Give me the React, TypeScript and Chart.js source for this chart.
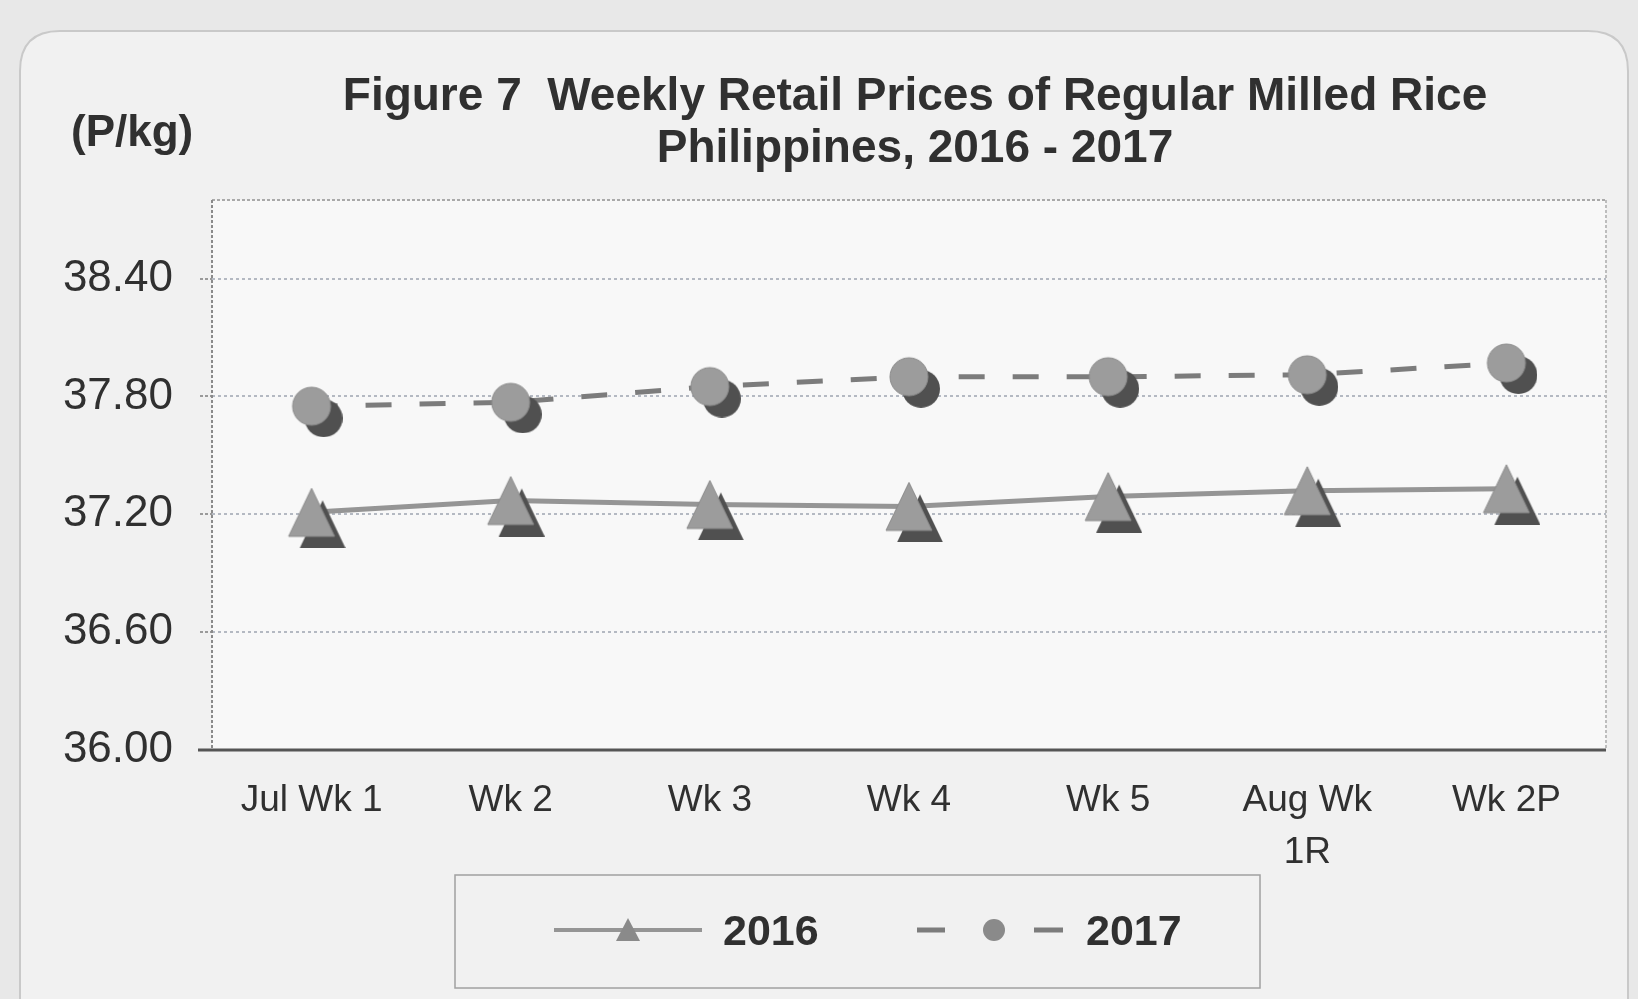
import React, { useEffect, useRef } from 'react';
import { Chart, registerables } from 'chart.js';

Chart.register(...registerables);

// ---------- data ----------
const CATEGORIES: (string | string[])[] = ['Jul Wk 1', 'Wk 2', 'Wk 3', 'Wk 4', 'Wk 5', ['Aug Wk', '1R'], 'Wk 2P'];
const SERIES_2016 = [37.21, 37.27, 37.25, 37.24, 37.29, 37.32, 37.33];
const SERIES_2017 = [37.75, 37.77, 37.85, 37.9, 37.9, 37.91, 37.97];
const SERIES_NAMES = ['2016', '2017'];
const Y_TICKS = [36.0, 36.6, 37.2, 37.8, 38.4];
const Y_MIN = 36.0;
const Y_MAX = 38.8;
const TITLE_LINES = ['Figure 7  Weekly Retail Prices of Regular Milled Rice', 'Philippines, 2016 - 2017'];
const UNIT_LABEL = '(P/kg)';

const FONT = "'Liberation Sans', Arial, Helvetica, sans-serif";
const TEXT_COLOR = '#303030';
const MARKER_FILL = '#9c9c9c';
const MARKER_SHADOW = '#505050';
const LINE_2016 = '#959595';
const LINE_2017 = '#7c7c7c';

function makeTriangle(w: number, h: number, dx: number, dy: number): HTMLCanvasElement {
  const c = document.createElement('canvas');
  c.width = w + 2 * dx;
  c.height = h + 2 * dy;
  const ctx = c.getContext('2d')!;
  const cx = c.width / 2;
  const cy = c.height / 2;
  const tri = (ox: number, oy: number, color: string) => {
    ctx.beginPath();
    ctx.moveTo(cx + ox, cy - h / 2 + oy);
    ctx.lineTo(cx + ox + w / 2, cy + h / 2 + oy);
    ctx.lineTo(cx + ox - w / 2, cy + h / 2 + oy);
    ctx.closePath();
    ctx.fillStyle = color;
    ctx.fill();
  };
  tri(dx, dy, MARKER_SHADOW);
  tri(0, 0, MARKER_FILL);
  ctx.strokeStyle = '#8a8a8a';
  ctx.lineWidth = 1;
  ctx.stroke();
  return c;
}

function makeCircle(d: number, dx: number, dy: number): HTMLCanvasElement {
  const c = document.createElement('canvas');
  c.width = d + 2 * dx;
  c.height = d + 2 * dy;
  const ctx = c.getContext('2d')!;
  const cx = c.width / 2;
  const cy = c.height / 2;
  ctx.beginPath();
  ctx.arc(cx + dx, cy + dy, d / 2, 0, Math.PI * 2);
  ctx.fillStyle = MARKER_SHADOW;
  ctx.fill();
  ctx.beginPath();
  ctx.arc(cx, cy, d / 2, 0, Math.PI * 2);
  ctx.fillStyle = MARKER_FILL;
  ctx.fill();
  ctx.strokeStyle = '#8a8a8a';
  ctx.lineWidth = 1;
  ctx.stroke();
  return c;
}

const decorPlugin = {
  id: 'decor',
  beforeDraw(chart: any) {
    const { ctx, width, height, chartArea } = chart;
    ctx.save();
    ctx.fillStyle = '#e8e8e8';
    ctx.fillRect(0, 0, width, height);
    // rounded card
    const x0 = 20, y0 = 31, x1 = 1628, y1 = 1030, r = 40;
    ctx.beginPath();
    ctx.moveTo(x0 + r, y0);
    ctx.lineTo(x1 - r, y0);
    ctx.quadraticCurveTo(x1, y0, x1, y0 + r);
    ctx.lineTo(x1, y1);
    ctx.lineTo(x0, y1);
    ctx.lineTo(x0, y0 + r);
    ctx.quadraticCurveTo(x0, y0, x0 + r, y0);
    ctx.closePath();
    ctx.fillStyle = '#f1f1f1';
    ctx.fill();
    ctx.strokeStyle = '#c9c9c9';
    ctx.lineWidth = 2;
    ctx.stroke();
    // plot background
    ctx.fillStyle = '#f8f8f8';
    ctx.fillRect(chartArea.left, chartArea.top, chartArea.right - chartArea.left, chartArea.bottom - chartArea.top);
    ctx.restore();
  },
  beforeDatasetsDraw(chart: any) {
    const { ctx, chartArea } = chart;
    const { left, right, top, bottom } = chartArea;
    ctx.save();
    ctx.setLineDash([3, 2]);
    ctx.lineWidth = 2;
    ctx.strokeStyle = '#a9a9a9';
    ctx.beginPath();
    ctx.moveTo(left, top);
    ctx.lineTo(right, top);
    ctx.stroke();
    ctx.strokeStyle = '#bdbdbd';
    ctx.beginPath();
    ctx.moveTo(right, top);
    ctx.lineTo(right, bottom);
    ctx.stroke();
    ctx.strokeStyle = '#8a8a8a';
    ctx.beginPath();
    ctx.moveTo(left, top);
    ctx.lineTo(left, bottom);
    ctx.stroke();
    ctx.setLineDash([]);
    ctx.strokeStyle = '#555555';
    ctx.lineWidth = 3;
    ctx.beginPath();
    ctx.moveTo(left - 14, bottom);
    ctx.lineTo(right, bottom);
    ctx.stroke();
    ctx.restore();
  },
  afterDraw(chart: any) {
    const { ctx } = chart;
    ctx.save();
    ctx.fillStyle = TEXT_COLOR;
    ctx.textAlign = 'center';
    ctx.textBaseline = 'alphabetic';
    ctx.font = `bold 46px ${FONT}`;
    const cx = 915;
    ctx.fillText(TITLE_LINES[0], cx, 110);
    ctx.fillText(TITLE_LINES[1], cx, 162);
    ctx.textAlign = 'left';
    ctx.font = `bold 44px ${FONT}`;
    ctx.fillText(UNIT_LABEL, 71, 146);

    // legend
    const bx = 455, by = 875, bw = 805, bh = 113;
    ctx.strokeStyle = '#a0a0a0';
    ctx.lineWidth = 1.5;
    ctx.strokeRect(bx, by, bw, bh);
    const ly = 930;
    // 2016 sample
    ctx.strokeStyle = LINE_2016;
    ctx.lineWidth = 4;
    ctx.beginPath();
    ctx.moveTo(554, ly);
    ctx.lineTo(702, ly);
    ctx.stroke();
    ctx.beginPath();
    ctx.moveTo(628, ly - 12);
    ctx.lineTo(640, ly + 11);
    ctx.lineTo(616, ly + 11);
    ctx.closePath();
    ctx.fillStyle = '#8a8a8a';
    ctx.fill();
    // 2017 sample
    ctx.strokeStyle = LINE_2017;
    ctx.lineWidth = 5;
    ctx.beginPath();
    ctx.moveTo(917, ly);
    ctx.lineTo(945, ly);
    ctx.moveTo(1034, ly);
    ctx.lineTo(1063, ly);
    ctx.stroke();
    ctx.beginPath();
    ctx.arc(994, ly, 11, 0, Math.PI * 2);
    ctx.fillStyle = '#8a8a8a';
    ctx.fill();
    ctx.fillStyle = TEXT_COLOR;
    ctx.font = `bold 43px ${FONT}`;
    ctx.textBaseline = 'alphabetic';
    ctx.fillText(SERIES_NAMES[0], 723, 945);
    ctx.fillText(SERIES_NAMES[1], 1086, 945);
    ctx.restore();
  },
};

export default function App() {
  const canvasRef = useRef<HTMLCanvasElement | null>(null);

  useEffect(() => {
    const canvas = canvasRef.current;
    if (!canvas) return;
    const tri = makeTriangle(46, 48, 11, 12);
    const circ = makeCircle(38, 12, 12);
    const chart = new Chart(canvas, {
      type: 'line',
      data: {
        labels: CATEGORIES as any,
        datasets: [
          {
            label: SERIES_NAMES[0],
            data: SERIES_2016,
            borderColor: LINE_2016,
            borderWidth: 5,
            pointRadius: 0,
            tension: 0,
            order: 3,
          },
          {
            label: SERIES_NAMES[1],
            data: SERIES_2017,
            borderColor: LINE_2017,
            borderWidth: 5,
            borderDash: [26, 28],
            pointRadius: 0,
            tension: 0,
            order: 3,
          },
          {
            label: SERIES_NAMES[0] + ' markers',
            data: SERIES_2016,
            showLine: false,
            pointStyle: tri as any,
            pointRadius: 20,
            order: 1,
          },
          {
            label: SERIES_NAMES[1] + ' markers',
            data: SERIES_2017,
            showLine: false,
            pointStyle: circ as any,
            pointRadius: 20,
            order: 1,
          },
        ],
      },
      options: {
        animation: false,
        responsive: false,
        layout: { padding: { top: 200, right: 32, bottom: 0, left: 0 } },
        plugins: {
          legend: { display: false },
          title: { display: false },
          tooltip: { enabled: false },
        },
        scales: {
          x: {
            offset: true,
            grid: { display: false, drawTicks: false },
            border: { display: false },
            ticks: {
              color: TEXT_COLOR,
              font: { family: FONT, size: 37, lineHeight: 1.4 },
              padding: 25,
              maxRotation: 0,
              autoSkip: false,
            },
            afterFit(scale: any) {
              scale.height = 249;
            },
          },
          y: {
            min: Y_MIN,
            max: Y_MAX,
            afterBuildTicks(scale: any) {
              scale.ticks = Y_TICKS.map((v) => ({ value: v }));
            },
            afterFit(scale: any) {
              scale.width = 212;
            },
            grid: {
              color: '#b4b9c2',
              lineWidth: 2,
              drawTicks: true,
              tickLength: 12,
              tickColor: '#9a9a9a',
              tickBorderDash: [3, 2],
            },
            border: { display: false, dash: [3, 3] },
            ticks: {
              color: TEXT_COLOR,
              font: { family: FONT, size: 44 },
              padding: 27,
              callback: (v: any) => Number(v).toFixed(2),
            },
          },
        },
      },
      plugins: [decorPlugin],
    });
    return () => chart.destroy();
  }, []);

  return (
    <div style={{ position: 'absolute', left: 0, top: 0, width: 1638, height: 999, overflow: 'hidden' }}>
      <canvas ref={canvasRef} width={1638} height={999} style={{ display: 'block' }} />
    </div>
  );
}
